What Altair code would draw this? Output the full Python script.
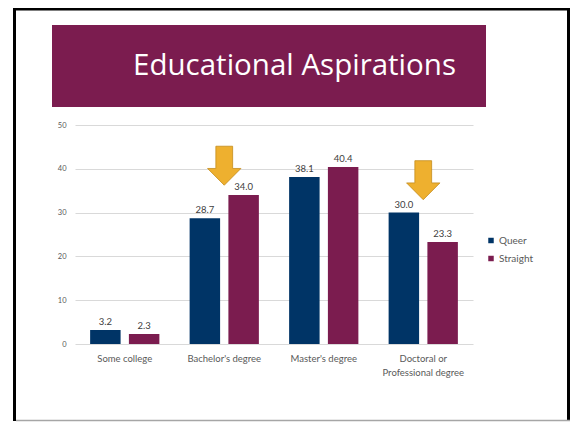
import altair as alt
import pandas as pd

# ---- data ----
categories = ["Some college", "Bachelor's degree", "Master's degree",
              "Doctoral or Professional degree"]
queer = [3.2, 28.7, 38.1, 30.0]
straight = [2.3, 34.0, 40.4, 23.3]
groups = ["Queer", "Straight"]
y_ticks = [0, 10, 20, 30, 40, 50]
arrow_categories = ["Bachelor's degree", "Doctoral or Professional degree"]
arrow_values = [40.7, 37.4]
title_text = "Educational Aspirations"

rows = []
for c, q, s in zip(categories, queer, straight):
    rows.append({"category": c, "group": groups[0], "value": q})
    rows.append({"category": c, "group": groups[1], "value": s})
df = pd.DataFrame(rows)
arrows_df = pd.DataFrame({"category": arrow_categories, "value": arrow_values})
one = pd.DataFrame({"d": [0]})

NAVY = "#003466"
MAROON = "#7B1C4F"
GOLD = "#EEB02F"
GREY = "#595959"
FONT = "Lato"

ARROW = ("M -0.43 -1 L 0.43 -1 L 0.43 0.14 L 0.855 0.14 L 0 1 "
         "L -0.855 0.14 L -0.43 0.14 Z")

label_expr = ("datum.label == 'Doctoral or Professional degree' ? "
              "['Doctoral or', 'Professional degree'] : datum.label")

x_enc = alt.X("category:N", sort=categories,
              scale=alt.Scale(domain=categories, paddingInner=0.304, paddingOuter=0.152),
              axis=alt.Axis(title=None, labelAngle=0, labelFont=FONT, labelFontSize=9.5,
                            labelColor=GREY, labelPadding=9, ticks=False, domain=False,
                            labelExpr=label_expr, labelLineHeight=14, labelBaseline="top"))
y_enc = alt.Y("value:Q", scale=alt.Scale(domain=[0, 50], nice=False),
              axis=alt.Axis(title=None, values=y_ticks, grid=True, gridColor="#D9D9D9",
                            gridWidth=1, domain=False, ticks=False, tickSize=0,
                            labelPadding=9, labelFont=FONT, labelFontSize=7.5,
                            labelColor=GREY))
xoff = alt.XOffset("group:N", sort=groups,
                   scale=alt.Scale(domain=groups, paddingInner=0.214, paddingOuter=0))

bars = alt.Chart(df).mark_bar().encode(
    x=x_enc, y=y_enc, xOffset=xoff,
    color=alt.Color("group:N",
                    scale=alt.Scale(domain=groups, range=[NAVY, MAROON]),
                    legend=alt.Legend(title=None, orient="none", legendX=411, legendY=110.5,
                                      symbolType="square", symbolSize=30,
                                      symbolStrokeWidth=0, labelFont=FONT,
                                      labelFontSize=10, labelColor=GREY,
                                      rowPadding=8, labelOffset=3)),
)

labels = alt.Chart(df).mark_text(font=FONT, fontSize=9.5, color="#404040",
                                 baseline="alphabetic", dy=-5).encode(
    x=alt.X("category:N", sort=categories), y="value:Q", xOffset=xoff,
    text=alt.Text("value:Q", format=".1f"),
)

arrows = alt.Chart(arrows_df).mark_point(shape=ARROW, filled=True, fill=GOLD,
                                         stroke="#C48C1C", strokeWidth=0.8,
                                         size=1521, opacity=1).encode(
    x=alt.X("category:N", sort=categories), y="value:Q",
)

banner = alt.Chart(one).mark_rect(color=MAROON).encode(
    x=alt.value(-23), x2=alt.value(411), y=alt.value(-100), y2=alt.value(-18))
title = alt.Chart(one).mark_text(text=title_text, font="Open Sans", fontSize=29.5,
                                 color="white", align="center",
                                 baseline="alphabetic").encode(
    x=alt.value(219.5), y=alt.value(-50))

b_left = alt.Chart(one).mark_rule(color="black", strokeWidth=3).encode(
    x=alt.value(-60.5), y=alt.value(-117), y2=alt.value(296))
b_top = alt.Chart(one).mark_rule(color="black", strokeWidth=2.5).encode(
    x=alt.value(-62), x2=alt.value(495), y=alt.value(-115.75))
b_right = alt.Chart(one).mark_rule(color="black", strokeWidth=3).encode(
    x=alt.value(493.5), y=alt.value(-117), y2=alt.value(296))
b_bottom = alt.Chart(one).mark_rule(color="#A6A6A6", strokeWidth=1.5).encode(
    x=alt.value(-59), x2=alt.value(495), y=alt.value(295.5))

chart = alt.layer(banner, title, bars, labels, arrows,
                  b_left, b_top, b_right, b_bottom).properties(
    width=398, height=219,
    autosize=alt.AutoSizeParams(type="none"),
    padding={"left": 67, "top": 117, "right": 97, "bottom": 78},
    background="white",
).configure_view(stroke=None)

chart.save("out.html", embed_options={"renderer": "svg", "actions": False})
